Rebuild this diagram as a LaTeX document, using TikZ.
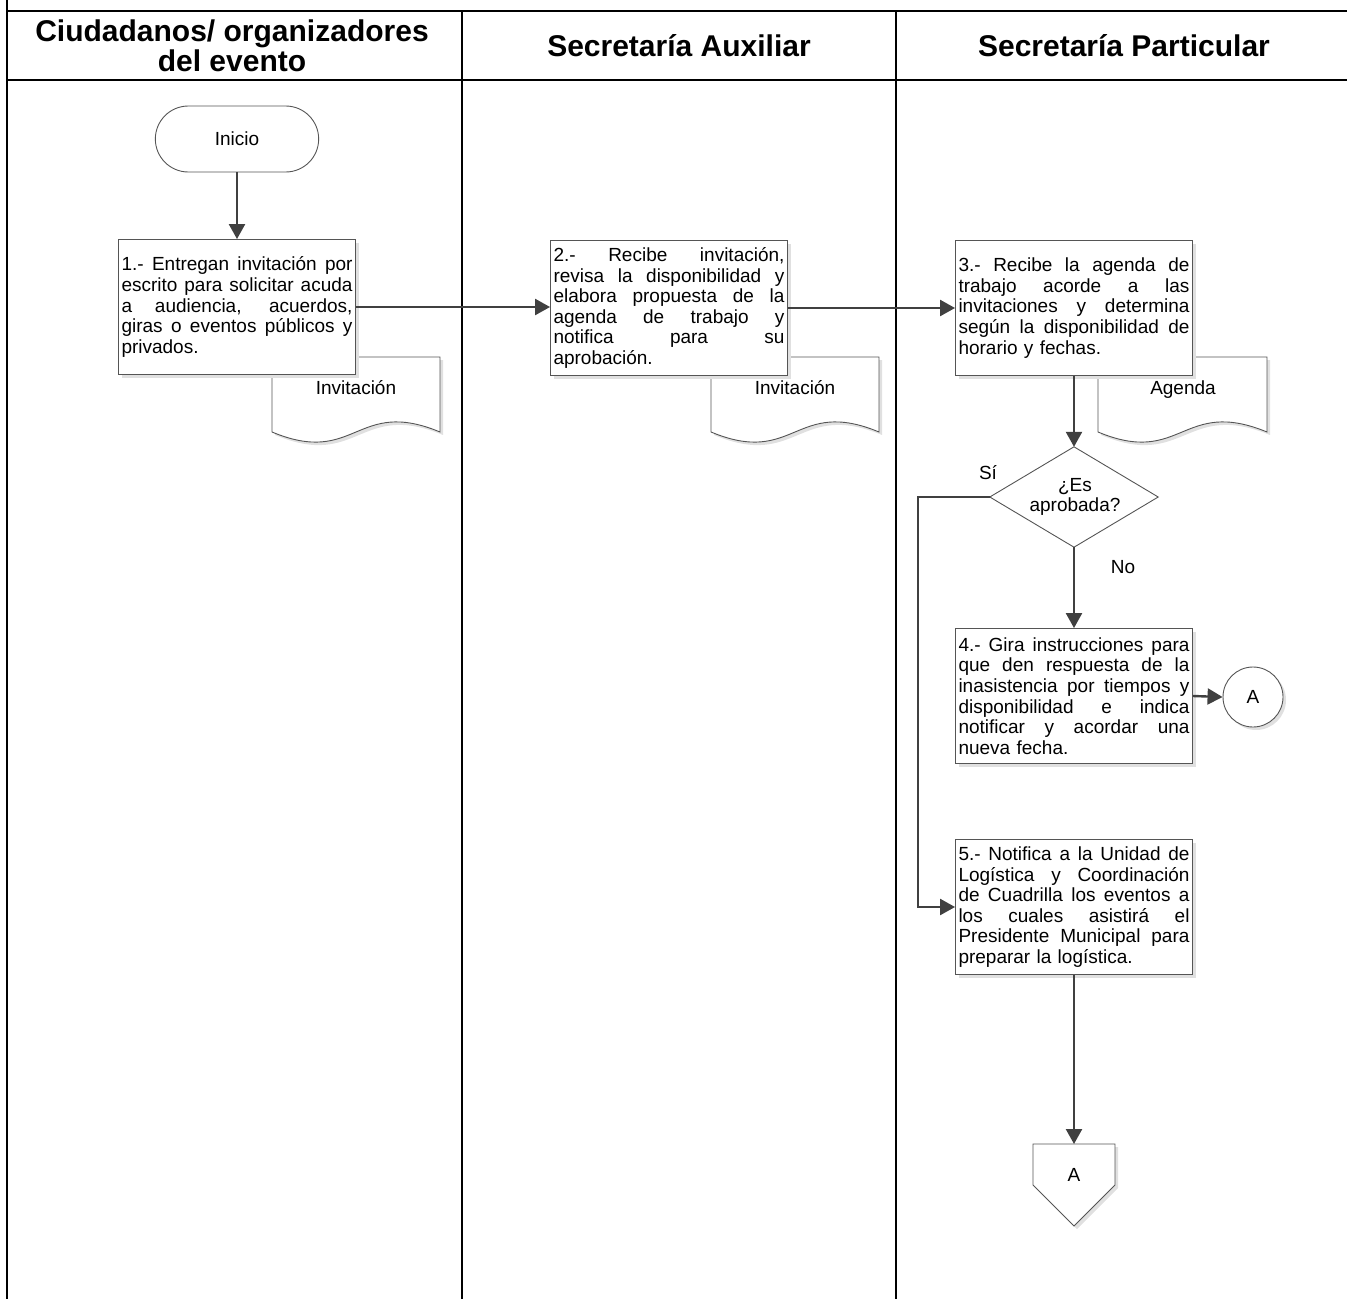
\documentclass[tikz,border=0pt]{standalone}
\usepackage{fontspec}
\setmainfont{Liberation Sans}
\usetikzlibrary{arrows.meta,shapes.misc,shapes.geometric,shadows}
\newcommand{\jl}[1]{\hbox to 231pt{\spaceskip=0.25em plus 1fil\relax#1}\par}
\newcommand{\lastl}[1]{\hbox to 231pt{#1\hfil}\par}
\definecolor{conn}{HTML}{404040}
\definecolor{edge}{HTML}{555555}
\tikzset{
  bodyfont/.style={font=\fontsize{19}{20.6}\selectfont},
  headfont/.style={font=\fontsize{30}{30.5}\selectfont\bfseries},
  frameline/.style={line width=2.7pt, black},
  laneline/.style={line width=1.8pt, black},
  flow/.style={draw=conn, line width=2.4pt, -{Triangle[length=15pt,width=16pt]}},
  shade/.style={drop shadow={shadow xshift=3pt, shadow yshift=-3pt, fill=black!12, opacity=1}},
  procbox/.style={draw=edge, line width=0.9pt, fill=white, shade, bodyfont,
    text width=231pt, inner xsep=3pt, inner ysep=0pt, minimum height=135pt},
  docshape/.style={draw=edge, line width=0.9pt, fill=white, shade},
  termin/.style={draw=edge, line width=0.9pt, fill=white, rounded rectangle,
    minimum width=170pt, minimum height=66pt, bodyfont},
  connect/.style={draw=edge, line width=0.9pt, fill=white, circle, minimum size=60pt, inner sep=0pt, shade, bodyfont},
  plain/.style={bodyfont, inner sep=0pt, text height=13pt, text depth=4pt},
}
\begin{document}
\begin{tikzpicture}[x=1pt,y=-1pt]
\useasboundingbox (0,0) rectangle (1347,1299);
% frame
\draw[frameline] (7,0) -- (7,1299);
\draw[frameline] (7,11) -- (1347,11);
\draw[frameline] (7,80) -- (1347,80);
\draw[laneline] (462,11) -- (462,1299);
\draw[laneline] (896,11) -- (896,1299);
\node[headfont, align=center] (h1) at (232,46) {Ciudadanos/ organizadores\\del evento};
\node[headfont] (h2) at (679,46) {Secretaría Auxiliar};
\node[headfont] (h3) at (1124,46) {Secretaría Particular};

% documents
\draw[docshape] (272,357) -- (272,432) .. controls (356,467) and (356,397) .. (440,432) -- (440,357) -- cycle;
\node[plain] (d1) at (356,390) {Invitación};
\draw[docshape] (711,357) -- (711,432) .. controls (795,467) and (795,397) .. (879,432) -- (879,357) -- cycle;
\node[plain] (d2) at (795,390) {Invitación};
\draw[docshape] (1098,357) -- (1098,432) .. controls (1182,467) and (1182,397) .. (1267,432) -- (1267,357) -- cycle;
\node[plain] (d3) at (1183,390) {Agenda};

% nodes
\node[termin] (inicio) at (237,139) {Inicio};
\node[procbox] (b1) at (237,307) {\jl{1.- Entregan invitación por}\jl{escrito para solicitar acuda}\jl{a audiencia, acuerdos,}\jl{giras o eventos públicos y}\lastl{privados.}};
\node[procbox] (b2) at (669,308) {\jl{2.- Recibe invitación,}\jl{revisa la disponibilidad y}\jl{elabora propuesta de la}\jl{agenda de trabajo y}\jl{notifica para su}\lastl{aprobación.}};
\node[procbox] (b3) at (1074,308) {\jl{3.- Recibe la agenda de}\jl{trabajo acorde a las}\jl{invitaciones y determina}\jl{según la disponibilidad de}\lastl{horario y fechas.}};
\node[procbox] (b4) at (1074,696) {\jl{4.- Gira instrucciones para}\jl{que den respuesta de la}\jl{inasistencia por tiempos y}\jl{disponibilidad e indica}\jl{notificar y acordar una}\lastl{nueva fecha.}};
\node[procbox] (b5) at (1074,907) {\jl{5.- Notifica a la Unidad de}\jl{Logística y Coordinación}\jl{de Cuadrilla los eventos a}\jl{los cuales asistirá el}\jl{Presidente Municipal para}\lastl{preparar la logística.}};

% decision
\node[minimum width=168pt, minimum height=100pt, inner sep=0pt] (dia) at (1074,497) {};
\draw[draw=edge, line width=0.9pt, fill=white] (dia.north) -- (dia.east) -- (dia.south) -- (dia.west) -- cycle;
\node[bodyfont, inner sep=0pt, align=center] (diatext) at (1075,497) {¿Es\\aprobada?};
\node[plain] (si) at (988,475) {Sí};
\node[plain] (no) at (1123,569) {No};

% connector circle
\node[connect] (ca) at (1253,697) {A};

% off-page connector
\coordinate (pt) at (1074,1144);
\draw[draw=edge, line width=0.9pt, fill=white, shade] (1033,1144) -- (1115,1144) -- (1115,1185) -- (1074,1226) -- (1033,1185) -- cycle;
\node[plain] (pa) at (1074,1177) {A};

% connectors
\draw[flow] (inicio.south) -- (b1.north);
\draw[flow] (b1.east) -- (b1.east -| b2.west);
\draw[flow] (b2.east) -- (b2.east -| b3.west);
\draw[flow] (b3.south) -- (dia.north);
\draw[flow] (dia.south) -- (b4.north);
\draw[flow] (b4.east) -- (ca.west);
\draw[flow] (dia.west) -- ++(-72,0) |- (b5.west);
\draw[flow] (b5.south) -- (pt);
\end{tikzpicture}
\end{document}
